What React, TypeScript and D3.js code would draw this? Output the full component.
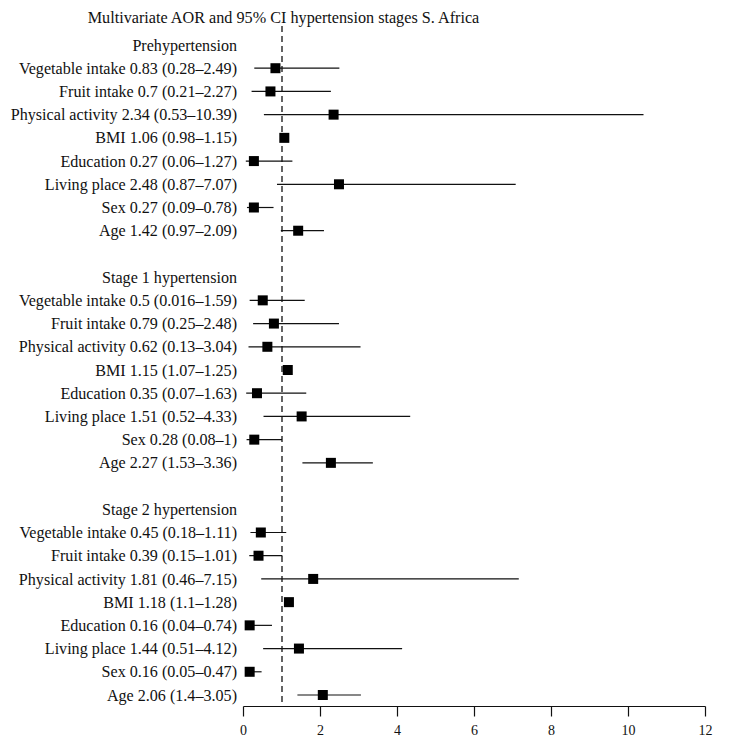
import React from "react";
import * as d3 from "d3";

const title = "Multivariate AOR and 95% CI hypertension stages S. Africa";
const groups = ["Prehypertension", "Stage 1 hypertension", "Stage 2 hypertension"];
const variables = ["Vegetable intake", "Fruit intake", "Physical activity", "BMI", "Education", "Living place", "Sex", "Age"];

// Adjusted odds ratios and 95% CI per group
const preOR = [0.83, 0.7, 2.34, 1.06, 0.27, 2.48, 0.27, 1.42];
const preLo = [0.28, 0.21, 0.53, 0.98, 0.06, 0.87, 0.09, 0.97];
const preHi = [2.49, 2.27, 10.39, 1.15, 1.27, 7.07, 0.78, 2.09];
const preText = ["0.83 (0.28–2.49)", "0.7 (0.21–2.27)", "2.34 (0.53–10.39)", "1.06 (0.98–1.15)", "0.27 (0.06–1.27)", "2.48 (0.87–7.07)", "0.27 (0.09–0.78)", "1.42 (0.97–2.09)"];

const s1OR = [0.5, 0.79, 0.62, 1.15, 0.35, 1.51, 0.28, 2.27];
const s1Lo = [0.16, 0.25, 0.13, 1.07, 0.07, 0.52, 0.08, 1.53];
const s1Hi = [1.59, 2.48, 3.04, 1.25, 1.63, 4.33, 1, 3.36];
const s1Text = ["0.5 (0.016–1.59)", "0.79 (0.25–2.48)", "0.62 (0.13–3.04)", "1.15 (1.07–1.25)", "0.35 (0.07–1.63)", "1.51 (0.52–4.33)", "0.28 (0.08–1)", "2.27 (1.53–3.36)"];

const s2OR = [0.45, 0.39, 1.81, 1.18, 0.16, 1.44, 0.16, 2.06];
const s2Lo = [0.18, 0.15, 0.46, 1.1, 0.04, 0.51, 0.05, 1.4];
const s2Hi = [1.11, 1.01, 7.15, 1.28, 0.74, 4.12, 0.47, 3.05];
const s2Text = ["0.45 (0.18–1.11)", "0.39 (0.15–1.01)", "1.81 (0.46–7.15)", "1.18 (1.1–1.28)", "0.16 (0.04–0.74)", "1.44 (0.51–4.12)", "0.16 (0.05–0.47)", "2.06 (1.4–3.05)"];

const xTicks = [0, 2, 4, 6, 8, 10, 12];

const groupData = [
  { or: preOR, lo: preLo, hi: preHi, text: preText },
  { or: s1OR, lo: s1Lo, hi: s1Hi, text: s1Text },
  { or: s2OR, lo: s2Lo, hi: s2Hi, text: s2Text },
];

export default function App() {
  const W = 731, H = 744;
  const x = d3.scaleLinear().domain([0, 12]).range([243.5, 705.5]);
  const y = d3.scaleLinear().domain([0, 28]).range([45, 695]);
  const axisY = 706.5;
  const font = "'Liberation Serif', 'Times New Roman', serif";
  const labelX = 237;
  const sq = 10;

  const rows: any[] = [];
  groupData.forEach((g, gi) => {
    const base = gi * 10;
    rows.push({ kind: "header", idx: base, text: groups[gi] });
    variables.forEach((v, vi) => {
      rows.push({
        kind: "item",
        idx: base + 1 + vi,
        text: `${v} ${g.text[vi]}`,
        or: g.or[vi],
        lo: g.lo[vi],
        hi: g.hi[vi],
      });
    });
  });

  return (
    <svg width={W} height={H} style={{ position: "absolute", left: 0, top: 0, background: "#fff" }}>
      <rect width={W} height={H} fill="#fff" />
      <text x={283.5} y={23} textAnchor="middle" fontFamily={font} fontSize={16.2} fill="#111">
        {title}
      </text>
      <line x1={x(1)} x2={x(1)} y1={26} y2={axisY} stroke="#111" strokeWidth={1.3} strokeDasharray="6,4" />
      {rows.map((r, i) => (
        <g key={i}>
          <text x={labelX} y={y(r.idx)} dy="0.35em" textAnchor="end" fontFamily={font} fontSize={16.1} fill="#111">
            {r.text}
          </text>
          {r.kind === "item" && (
            <g>
              <line x1={x(r.lo)} x2={x(r.hi)} y1={y(r.idx)} y2={y(r.idx)} stroke="#111" strokeWidth={1.2} />
              <rect x={x(r.or) - sq / 2} y={y(r.idx) - sq / 2} width={sq} height={sq} fill="#000" />
            </g>
          )}
        </g>
      ))}
      <line x1={x(0)} x2={x(12)} y1={axisY} y2={axisY} stroke="#111" strokeWidth={1.2} />
      {xTicks.map((t) => (
        <g key={t}>
          <line x1={x(t)} x2={x(t)} y1={axisY} y2={axisY + 10} stroke="#111" strokeWidth={1.2} />
          <text x={x(t)} y={735} textAnchor="middle" fontFamily={font} fontSize={14} fill="#111">
            {t}
          </text>
        </g>
      ))}
    </svg>
  );
}
